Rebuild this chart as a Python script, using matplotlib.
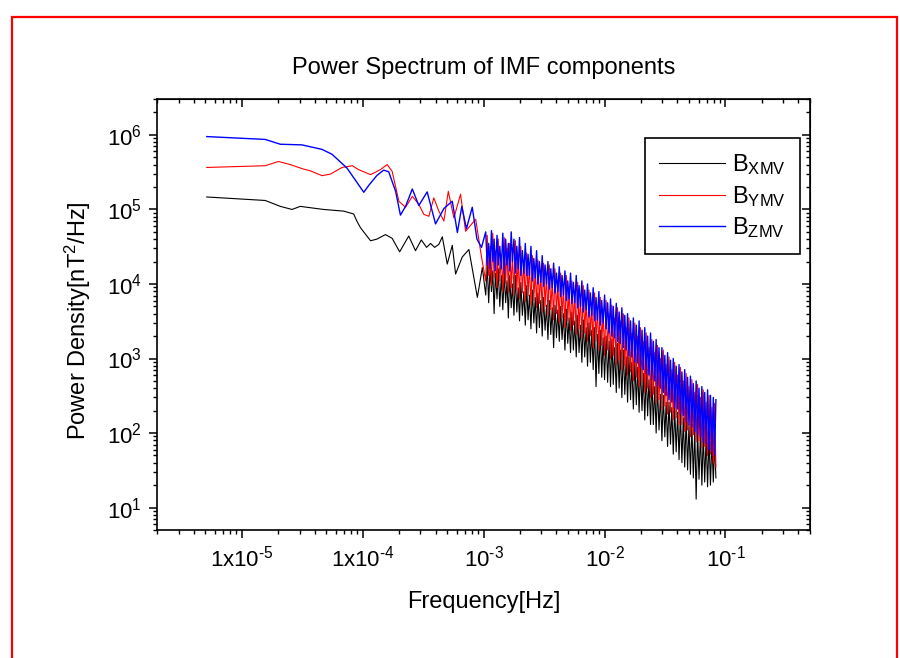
import matplotlib.pyplot as plt
from matplotlib.patches import Rectangle
from matplotlib.ticker import LogLocator, NullFormatter

plt.rcParams['font.family'] = ['Liberation Sans', 'DejaVu Sans']
plt.rcParams['mathtext.fontset'] = 'custom'
plt.rcParams['mathtext.rm'] = 'Liberation Sans'
plt.rcParams['mathtext.it'] = 'Liberation Sans'
plt.rcParams['mathtext.bf'] = 'Liberation Sans:bold'

# low frequency part, read per series
bx_freq_low = [5.13e-6, 1.56e-5, 2.08e-5, 2.6e-5, 3.04e-5, 4.74e-5, 6.95e-5, 8.41e-5, 8.97e-5, 9.57e-5,
               1.16e-4, 1.31e-4, 1.54e-4, 1.75e-4, 2.02e-4, 2.40e-4, 2.73e-4, 3.05e-4, 3.37e-4, 3.64e-4,
               3.93e-4, 4.26e-4, 4.55e-4, 5.0e-4, 5.5e-4, 5.86e-4, 6.65e-4, 7.55e-4, 8.87e-4, 9.75e-4]
bx_pow_low = [1.47e5, 1.32e5, 1.1e5, 1.0e5, 1.1e5, 1.0e5, 9.5e4, 8.7e4, 6.9e4, 5.7e4,
              3.8e4, 4.0e4, 4.6e4, 4.1e4, 2.7e4, 4.4e4, 2.8e4, 3.9e4, 3.1e4, 3.5e4,
              3.1e4, 3.4e4, 4.3e4, 1.85e4, 3.3e4, 1.36e4, 2.3e4, 2.9e4, 6.6e3, 1.66e4]

by_freq_low = [5.13e-6, 1.56e-5, 2.01e-5, 2.51e-5, 3.24e-5, 3.68e-5, 4.6e-5, 5.4e-5, 6.75e-5, 8.2e-5,
               9.25e-5, 1.16e-4, 1.40e-4, 1.59e-4, 1.75e-4, 1.99e-4, 2.26e-4, 2.57e-4, 2.91e-4, 3.2e-4,
               3.52e-4, 3.87e-4, 4.26e-4, 4.69e-4, 5.1e-4, 5.67e-4, 6.44e-4, 7.09e-4, 8.59e-4, 9.6e-4]
by_pow_low = [3.66e5, 3.86e5, 4.4e5, 4.0e5, 3.48e5, 3.3e5, 2.84e5, 2.98e5, 3.66e5, 3.86e5,
              3.42e5, 2.93e5, 3.42e5, 4.0e5, 3.25e5, 1.29e5, 1.07e5, 1.5e5, 1.17e5, 8.6e4,
              8.1e4, 1.43e5, 9.5e4, 7.0e4, 1.75e5, 7.7e4, 1.6e5, 5.1e4, 7.4e4, 2.3e4]

bz_freq_low = [5.13e-6, 1.56e-5, 2.08e-5, 3.14e-5, 4.6e-5, 5.57e-5, 7.4e-5, 8.8e-5, 1.02e-4, 1.12e-4,
               1.31e-4, 1.49e-4, 1.64e-4, 1.87e-4, 2.05e-4, 2.26e-4, 2.57e-4, 2.91e-4, 3.41e-4, 4.0e-4,
               4.69e-4, 5.5e-4, 6.06e-4, 6.6e-4, 7.2e-4, 8.05e-4, 8.8e-4, 9.6e-4]
bz_pow_low = [9.5e5, 8.7e5, 7.5e5, 7.35e5, 6.4e5, 5.5e5, 3.6e5, 2.4e5, 1.7e5, 2.1e5,
              2.86e5, 3.37e5, 3.2e5, 1.75e5, 8.4e4, 1.1e5, 1.88e5, 1.13e5, 1.72e5, 6.4e4,
              1.03e5, 1.29e5, 4.9e4, 1.1e5, 5.5e4, 1.07e5, 4.0e4, 3.1e4]

# high frequency part (dense), shared frequency points
freq_hf = [1.04e-3, 1.07e-3, 1.10e-3, 1.13e-3, 1.16e-3, 1.19e-3, 1.22e-3, 1.25e-3, 1.29e-3, 1.32e-3,
           1.36e-3, 1.40e-3, 1.44e-3, 1.48e-3, 1.52e-3, 1.56e-3, 1.60e-3, 1.64e-3, 1.69e-3, 1.73e-3,
           1.78e-3, 1.83e-3, 1.88e-3, 1.93e-3, 1.98e-3, 2.03e-3, 2.09e-3, 2.15e-3, 2.21e-3, 2.27e-3,
           2.33e-3, 2.39e-3, 2.46e-3, 2.53e-3, 2.60e-3, 2.67e-3, 2.74e-3, 2.81e-3, 2.89e-3, 2.97e-3,
           3.05e-3, 3.13e-3, 3.22e-3, 3.31e-3, 3.40e-3, 3.49e-3, 3.59e-3, 3.69e-3, 3.79e-3, 3.89e-3,
           4.00e-3, 4.11e-3, 4.22e-3, 4.33e-3, 4.45e-3, 4.57e-3, 4.70e-3, 4.83e-3, 4.96e-3, 5.09e-3,
           5.23e-3, 5.37e-3, 5.52e-3, 5.67e-3, 5.83e-3, 5.99e-3, 6.15e-3, 6.32e-3, 6.49e-3, 6.67e-3,
           6.85e-3, 7.04e-3, 7.23e-3, 7.43e-3, 7.63e-3, 7.84e-3, 8.05e-3, 8.27e-3, 8.50e-3, 8.73e-3,
           8.97e-3, 9.22e-3, 9.47e-3, 9.73e-3,
           1.00e-2, 1.03e-2, 1.06e-2, 1.09e-2, 1.12e-2, 1.15e-2, 1.18e-2, 1.21e-2, 1.25e-2, 1.28e-2,
           1.32e-2, 1.35e-2, 1.39e-2, 1.43e-2, 1.47e-2, 1.51e-2, 1.55e-2, 1.59e-2, 1.64e-2, 1.68e-2,
           1.73e-2, 1.78e-2, 1.83e-2, 1.88e-2, 1.93e-2, 1.98e-2, 2.04e-2, 2.09e-2, 2.15e-2, 2.21e-2,
           2.27e-2, 2.33e-2, 2.40e-2, 2.46e-2, 2.53e-2, 2.60e-2, 2.67e-2, 2.74e-2, 2.82e-2, 2.90e-2,
           2.98e-2, 3.06e-2, 3.15e-2, 3.23e-2, 3.32e-2, 3.41e-2, 3.51e-2, 3.60e-2, 3.70e-2, 3.80e-2,
           3.91e-2, 4.02e-2, 4.13e-2, 4.24e-2, 4.36e-2, 4.48e-2, 4.60e-2, 4.73e-2, 4.86e-2, 4.99e-2,
           5.13e-2, 5.27e-2, 5.42e-2, 5.57e-2, 5.72e-2, 5.88e-2, 6.04e-2, 6.21e-2, 6.38e-2, 6.55e-2,
           6.73e-2, 6.92e-2, 7.11e-2, 7.31e-2, 7.51e-2, 7.72e-2, 7.93e-2, 8.13e-2, 8.33e-2]

bx_pow_hf = [7.1e3, 1.8e4, 5.6e3, 1.6e4, 7.9e3, 1.5e4, 4.0e3, 1.4e4, 6.3e3, 1.6e4,
             5.0e3, 1.3e4, 4.5e3, 1.4e4, 5.6e3, 1.1e4, 3.5e3, 1.3e4, 4.8e3, 1.0e4,
             3.8e3, 1.3e4, 4.2e3, 8.9e3, 3.2e3, 1.05e4, 3.8e3, 7.9e3, 2.8e3, 9.5e3,
             3.3e3, 7.1e3, 2.5e3, 8.3e3, 3.0e3, 6.6e3, 2.2e3, 7.6e3, 2.6e3, 6.0e3,
             2.0e3, 6.6e3, 2.4e3, 5.2e3, 1.8e3, 6.0e3, 2.1e3, 4.8e3, 1.4e3, 5.2e3,
             1.9e3, 4.5e3, 1.7e3, 5.0e3, 1.8e3, 4.0e3, 1.3e3, 4.6e3, 1.6e3, 3.5e3,
             1.2e3, 4.2e3, 1.3e3, 3.2e3, 1.05e3, 3.8e3, 1.2e3, 2.8e3, 890, 3.3e3,
             1.05e3, 2.6e3, 790, 3.0e3, 890, 2.4e3, 710, 2.6e3, 420, 2.1e3,
             630, 2.4e3, 560, 1.9e3,
             520, 2.0e3, 480, 1.7e3, 420, 1.8e3, 450, 1.4e3, 350, 1.6e3,
             400, 1.3e3, 300, 1.3e3, 330, 1.05e3, 260, 1.1e3, 280, 890,
             210, 950, 240, 760, 190, 790, 200, 630, 150, 660,
             170, 520, 130, 520, 130, 420, 100, 420, 110, 330,
             79, 320, 89, 260, 66, 260, 71, 220, 52, 220,
             56, 190, 44, 190, 40, 160, 35, 160, 32, 130,
             28, 130, 25, 110, 13, 110, 24, 100, 20, 100,
             22, 89, 19, 89, 20, 79, 22, 76, 25]

by_pow_hf = [1.1e4, 4.5e4, 1.3e4, 3.2e4, 9.5e3, 4.8e4, 1.2e4, 2.8e4, 8.9e3, 4.0e4,
             1.1e4, 2.5e4, 7.9e3, 4.2e4, 1.0e4, 3.0e4, 7.6e3, 3.5e4, 8.9e3, 2.5e4,
             7.1e3, 3.8e4, 8.3e3, 2.2e4, 6.3e3, 3.2e4, 7.6e3, 2.0e4, 5.8e3, 2.6e4,
             6.9e3, 1.8e4, 5.2e3, 2.4e4, 6.0e3, 1.6e4, 4.8e3, 2.1e4, 5.5e3, 1.4e4,
             4.2e3, 1.9e4, 5.0e3, 1.3e4, 3.8e3, 1.8e4, 4.5e3, 1.1e4, 3.3e3, 1.6e4,
             4.0e3, 1.0e4, 3.0e3, 1.4e4, 3.5e3, 8.9e3, 2.6e3, 1.3e4, 3.2e3, 8.3e3,
             2.4e3, 1.1e4, 2.8e3, 7.6e3, 2.1e3, 1.05e4, 2.5e3, 6.6e3, 1.9e3, 9.5e3,
             2.2e3, 6.0e3, 1.7e3, 8.3e3, 2.0e3, 5.2e3, 1.4e3, 7.6e3, 1.7e3, 4.8e3,
             1.3e3, 6.6e3, 1.5e3, 4.2e3,
             1.1e3, 6.0e3, 1.3e3, 4.0e3, 1.0e3, 5.2e3, 1.1e3, 3.5e3, 830, 4.8e3,
             950, 3.2e3, 710, 4.0e3, 790, 2.6e3, 600, 3.5e3, 660, 2.2e3,
             500, 3.0e3, 560, 2.0e3, 420, 2.6e3, 480, 1.7e3, 350, 2.2e3,
             400, 1.4e3, 300, 1.8e3, 330, 1.2e3, 250, 1.5e3, 280, 1.0e3,
             210, 1.3e3, 230, 830, 180, 1.05e3, 190, 710, 150, 890,
             160, 600, 130, 760, 130, 500, 105, 630, 110, 420,
             89, 520, 95, 350, 76, 450, 79, 300, 63, 380,
             66, 260, 50, 320, 52, 220, 40, 250, 35]

bz_pow_hf = [5.0e4, 1.8e4, 3.5e4, 1.6e4, 5.2e4, 2.0e4, 4.0e4, 1.5e4, 4.5e4, 1.8e4,
             3.2e4, 1.6e4, 4.8e4, 1.4e4, 4.0e4, 1.8e4, 3.5e4, 1.5e4, 5.0e4, 2.0e4,
             4.0e4, 1.4e4, 3.2e4, 1.6e4, 4.2e4, 1.3e4, 2.8e4, 1.4e4, 3.5e4, 1.3e4,
             2.5e4, 1.3e4, 3.2e4, 1.1e4, 2.2e4, 1.2e4, 2.8e4, 1.0e4, 2.0e4, 1.05e4,
             2.4e4, 9.3e3, 1.8e4, 1.0e4, 2.0e4, 8.5e3, 1.6e4, 8.9e3, 1.9e4, 7.6e3,
             1.4e4, 7.9e3, 1.7e4, 6.8e3, 1.3e4, 7.1e3, 1.5e4, 6.0e3, 1.1e4, 6.3e3,
             1.4e4, 5.5e3, 1.05e4, 5.6e3, 1.3e4, 4.8e3, 9.5e3, 5.0e3, 1.1e4, 4.2e3,
             8.3e3, 4.5e3, 1.0e4, 3.6e3, 7.6e3, 3.8e3, 8.9e3, 3.2e3, 6.6e3, 3.3e3,
             7.9e3, 2.8e3, 6.0e3, 3.0e3,
             7.1e3, 2.5e3, 5.6e3, 2.2e3, 6.3e3, 2.0e3, 5.0e3, 1.9e3, 5.5e3, 1.7e3,
             4.2e3, 1.6e3, 4.8e3, 1.4e3, 3.8e3, 1.3e3, 4.0e3, 1.1e3, 3.2e3, 1.05e3,
             3.5e3, 910, 2.8e3, 870, 3.2e3, 760, 2.4e3, 710, 2.6e3, 630,
             2.0e3, 600, 2.2e3, 520, 1.7e3, 500, 1.8e3, 430, 1.4e3, 400,
             1.4e3, 350, 1.1e3, 320, 1.2e3, 280, 950, 260, 1.0e3, 220,
             790, 210, 830, 180, 660, 170, 710, 140, 560, 130,
             580, 120, 460, 105, 500, 95, 400, 89, 420, 76,
             350, 71, 380, 60, 320, 56, 300, 50, 280]

xtick_vals = [1e-5, 1e-4, 1e-3, 1e-2, 1e-1]
xtick_labels = [r'1x10$^{\text{-}5}$', r'1x10$^{\text{-}4}$', r'10$^{\text{-}3}$',
                r'10$^{\text{-}2}$', r'10$^{\text{-}1}$']
ytick_vals = [1e1, 1e2, 1e3, 1e4, 1e5, 1e6]
ytick_labels = ['10$^{1}$', '10$^{2}$', '10$^{3}$', '10$^{4}$', '10$^{5}$', '10$^{6}$']

fig = plt.figure(figsize=(9, 6.58), dpi=100)
ax = fig.add_axes([0.1748, 0.1945, 0.7252, 0.6545])

ax.plot(bx_freq_low + freq_hf, bx_pow_low + bx_pow_hf, color='black', lw=0.8, label=r'B$_{XMV}$')
ax.plot(by_freq_low + freq_hf, by_pow_low + by_pow_hf, color='red', lw=0.8, label=r'B$_{YMV}$')
ax.plot(bz_freq_low + freq_hf, bz_pow_low + bz_pow_hf, color='blue', lw=1.0, label=r'B$_{ZMV}$')

ax.set_xscale('log')
ax.set_yscale('log')
ax.set_xlim(2e-6, 0.5)
ax.set_ylim(5, 3e6)

ax.set_xticks(xtick_vals)
ax.set_xticklabels(xtick_labels)
ax.set_yticks(ytick_vals)
ax.set_yticklabels(ytick_labels)
ax.xaxis.set_minor_locator(LogLocator(base=10, subs=range(2, 10), numticks=20))
ax.yaxis.set_minor_locator(LogLocator(base=10, subs=range(2, 10), numticks=20))
ax.xaxis.set_minor_formatter(NullFormatter())
ax.yaxis.set_minor_formatter(NullFormatter())
ax.tick_params(which='major', direction='out', length=6, width=1.1, labelsize=16, pad=5)
ax.tick_params(which='minor', direction='out', length=3, width=1.0)
for sp in ax.spines.values():
    sp.set_linewidth(1.2)

# inward ticks on top and right
top = ax.secondary_xaxis('top')
top.set_xticks(xtick_vals)
top.xaxis.set_minor_locator(LogLocator(base=10, subs=range(2, 10), numticks=20))
top.xaxis.set_major_formatter(NullFormatter())
top.xaxis.set_minor_formatter(NullFormatter())
top.tick_params(which='major', direction='in', length=6, width=1.1)
top.tick_params(which='minor', direction='in', length=3, width=1.0)
right = ax.secondary_yaxis('right')
right.set_yticks(ytick_vals)
right.yaxis.set_minor_locator(LogLocator(base=10, subs=range(2, 10), numticks=20))
right.yaxis.set_major_formatter(NullFormatter())
right.yaxis.set_minor_formatter(NullFormatter())
right.tick_params(which='major', direction='in', length=6, width=1.1)
right.tick_params(which='minor', direction='in', length=3, width=1.0)

ax.text(0.5, 1.073, 'Power Spectrum of IMF components', transform=ax.transAxes,
        ha='center', va='center', fontsize=17)
ax.set_xlabel('Frequency[Hz]', fontsize=17)
ax.xaxis.set_label_coords(0.5, -0.167)
ax.xaxis.label.set_va('center')
ax.set_ylabel('Power Density[nT$^{2}$/Hz]', fontsize=17)
ax.yaxis.set_label_coords(-0.121, 0.486)
ax.yaxis.label.set_va('center')

leg = ax.legend(loc='upper right', bbox_to_anchor=(0.9847, 0.910), borderaxespad=0,
                fontsize=17, frameon=True, fancybox=False, edgecolor='black',
                handlelength=2.8, handletextpad=0.3, labelspacing=0.28, borderpad=0.6)
leg.get_frame().set_linewidth(1.2)
leg.get_frame().set_alpha(1)

fig.patches.append(Rectangle((0.0133, -0.1), 0.9834, 1.074, transform=fig.transFigure,
                             fill=False, edgecolor='red', lw=1.6))

fig.savefig('out.png', dpi=100)
